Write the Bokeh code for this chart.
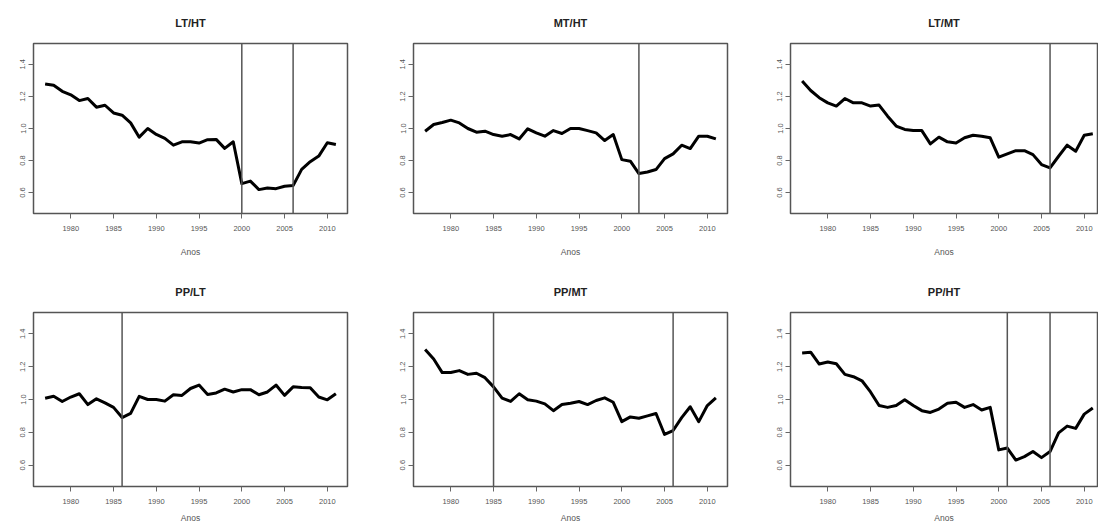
from bokeh.plotting import figure
from bokeh.layouts import row, column
from bokeh.models import Span, FixedTicker, PrintfTickFormatter, Range1d
from bokeh.embed import file_html
from bokeh.resources import INLINE

years = list(range(1977, 2012))

titles = ["LT/HT", "MT/HT", "LT/MT", "PP/LT", "PP/MT", "PP/HT"]

lt_ht = [1.278, 1.270, 1.232, 1.210, 1.174, 1.187, 1.133, 1.145, 1.097, 1.083,
         1.035, 0.946, 1.000, 0.963, 0.938, 0.896, 0.917, 0.917, 0.909, 0.930,
         0.932, 0.876, 0.917, 0.656, 0.672, 0.619, 0.629, 0.625, 0.640, 0.644,
         0.745, 0.793, 0.828, 0.911, 0.900]
mt_ht = [0.983, 1.025, 1.037, 1.052, 1.035, 1.000, 0.977, 0.983, 0.962, 0.952,
         0.962, 0.935, 0.998, 0.973, 0.952, 0.987, 0.969, 1.000, 1.000, 0.987,
         0.973, 0.925, 0.962, 0.806, 0.796, 0.719, 0.729, 0.744, 0.812, 0.842,
         0.896, 0.875, 0.952, 0.952, 0.935]
lt_mt = [1.296, 1.237, 1.192, 1.160, 1.140, 1.187, 1.160, 1.160, 1.140, 1.146,
         1.077, 1.015, 0.994, 0.987, 0.987, 0.904, 0.946, 0.917, 0.910, 0.942,
         0.958, 0.952, 0.942, 0.821, 0.842, 0.862, 0.862, 0.837, 0.775, 0.754,
         0.827, 0.896, 0.858, 0.958, 0.967]
pp_lt = [1.008, 1.020, 0.988, 1.015, 1.035, 0.969, 1.004, 0.979, 0.952, 0.890,
         0.915, 1.019, 1.000, 1.000, 0.990, 1.029, 1.025, 1.067, 1.088, 1.031,
         1.040, 1.063, 1.046, 1.060, 1.060, 1.029, 1.046, 1.088, 1.025, 1.077,
         1.073, 1.071, 1.015, 0.998, 1.035]
pp_mt = [1.305, 1.247, 1.164, 1.164, 1.176, 1.153, 1.160, 1.133, 1.077, 1.008,
         0.988, 1.035, 0.998, 0.990, 0.973, 0.932, 0.969, 0.977, 0.988, 0.969,
         0.994, 1.010, 0.983, 0.865, 0.894, 0.886, 0.900, 0.915, 0.787, 0.811,
         0.890, 0.956, 0.865, 0.963, 1.010]
pp_ht = [1.284, 1.288, 1.216, 1.228, 1.218, 1.153, 1.139, 1.114, 1.046, 0.963,
         0.952, 0.963, 0.998, 0.963, 0.932, 0.921, 0.942, 0.977, 0.983, 0.952,
         0.969, 0.936, 0.952, 0.693, 0.704, 0.631, 0.652, 0.683, 0.646, 0.683,
         0.797, 0.838, 0.824, 0.911, 0.948]

series = [lt_ht, mt_ht, lt_mt, pp_lt, pp_mt, pp_ht]
breaks = [[2000, 2006], [2002], [2006], [1986], [1985, 2006], [2001, 2006]]

x_ticks = [1980, 1985, 1990, 1995, 2000, 2005, 2010]
y_ticks = [0.6, 0.8, 1.0, 1.2, 1.4]

FONT = "Liberation Sans"

# layout geometry per column: (border_left, border_right, x_end)
cols = [(33, 19, 2012.36), (47, 5, 2012.36), (58, 1, 2011.55)]
# per row: (height, border_top, border_bottom, axis_label_standoff)
rows_geo = [(262, 42, 49, 13), (263, 50, 38, 6)]

figs = []
for i in range(6):
    r, c = divmod(i, 3)
    bl, br, xend = cols[c]
    h, bt, bb, lstand = rows_geo[r]
    p = figure(width=366, height=h, output_backend="svg", toolbar_location=None,
               x_range=Range1d(1975.64, xend), y_range=Range1d(0.47, 1.53),
               min_border_left=bl, min_border_right=br,
               min_border_top=bt, min_border_bottom=bb,
               title=titles[i])
    p.title.align = "center"
    p.title.text_font = FONT
    p.title.text_font_size = "11px"
    p.title.text_font_style = "bold"
    p.title.text_color = "#222222"
    p.title.standoff = 29
    p.grid.visible = False
    p.outline_line_color = "#555555"
    p.outline_line_width = 1.5
    p.background_fill_color = "white"
    p.border_fill_color = "white"

    p.xaxis.ticker = FixedTicker(ticks=x_ticks)
    p.yaxis.ticker = FixedTicker(ticks=y_ticks)
    p.yaxis.formatter = PrintfTickFormatter(format="%.1f")
    p.yaxis.major_label_orientation = "vertical"
    for ax in (p.xaxis, p.yaxis):
        ax.axis_line_color = None
        ax.minor_tick_line_color = None
        ax.major_tick_in = 0
        ax.major_tick_out = 5
        ax.major_tick_line_color = "#666666"
        ax.major_tick_line_width = 1
        ax.major_label_text_font = FONT
        ax.major_label_text_font_size = "7.5px"
        ax.major_label_text_color = "#555555"
    p.xaxis.major_label_standoff = 7
    p.yaxis.major_label_standoff = 3
    p.xaxis.axis_label = "Anos"
    p.xaxis.axis_label_text_font = FONT
    p.xaxis.axis_label_text_font_size = "8.5px"
    p.xaxis.axis_label_text_font_style = "normal"
    p.xaxis.axis_label_text_color = "#555555"
    p.xaxis.axis_label_standoff = lstand

    p.line(years, series[i], line_color="black", line_width=3, line_join="round")
    for b in breaks[i]:
        p.add_layout(Span(location=b, dimension="height", line_color="#555555", line_width=1.5))
    figs.append(p)

layout = column(row(*figs[:3]), row(*figs[3:]))
open("out.html", "w").write(file_html(layout, INLINE))
